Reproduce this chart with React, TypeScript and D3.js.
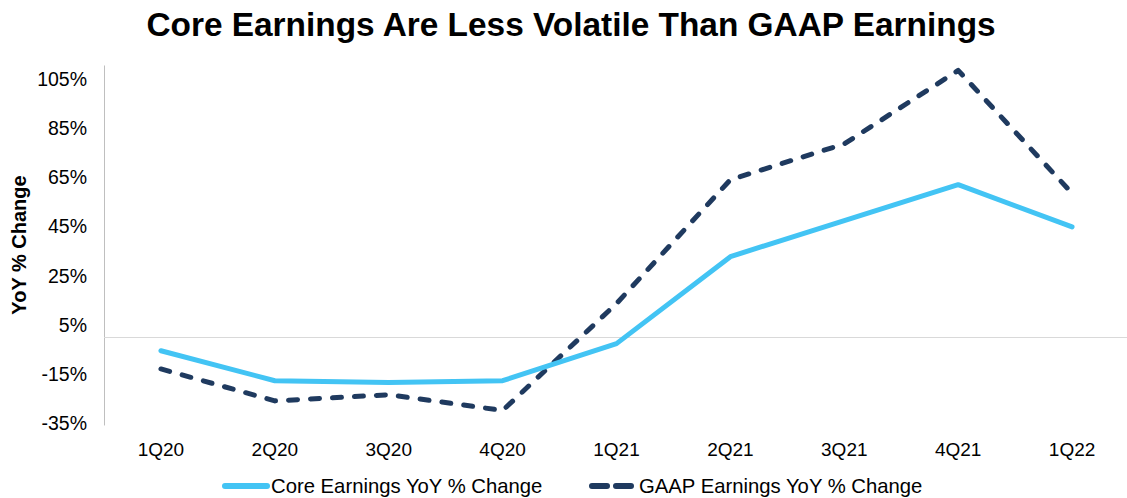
import React, { useEffect, useRef } from 'react';
import * as d3 from 'd3';

const quarters = ['1Q20', '2Q20', '3Q20', '4Q20', '1Q21', '2Q21', '3Q21', '4Q21', '1Q22'];
const coreEarnings = [-5.6, -17.8, -18.5, -17.8, -2.7, 32.7, 47.4, 62.0, 44.8];
const gaapEarnings = [-13.0, -26.0, -23.5, -29.9, 13.6, 64.0, 78.6, 108.5, 58.5];
const yTicks = [-35, -15, 5, 25, 45, 65, 85, 105];

const WIDTH = 1127;
const HEIGHT = 498;
const CORE_COLOUR = '#43c4f4';
const GAAP_COLOUR = '#1f3a5f';
const FONT = '"Liberation Sans", Arial, sans-serif';

export default function App() {
    const canvas = useRef<SVGSVGElement>(null);

    useEffect(() => {
        const svg = d3.select(canvas.current);
        svg.selectAll('*').remove();

        const margin = { left: 104, right: 1129 };
        const xScale = d3.scalePoint<string>()
            .domain(quarters)
            .range([margin.left, margin.right])
            .padding(0.5);

        const yScale = d3.scaleLinear()
            .domain([-35, 105])
            .range([423, 79]);

        // title
        svg.append('text')
            .attr('x', 571)
            .attr('y', 36)
            .attr('text-anchor', 'middle')
            .attr('font-family', FONT)
            .attr('font-weight', 'bold')
            .attr('font-size', 33.4)
            .attr('fill', '#000')
            .text('Core Earnings Are Less Volatile Than GAAP Earnings');

        // y label
        svg.append('text')
            .attr('transform', 'translate(26,245) rotate(-90)')
            .attr('text-anchor', 'middle')
            .attr('font-family', FONT)
            .attr('font-weight', 'bold')
            .attr('font-size', 20)
            .text('YoY % Change');

        // left axis line
        svg.append('line')
            .attr('x1', margin.left + 0.5)
            .attr('x2', margin.left + 0.5)
            .attr('y1', yScale(110.5))
            .attr('y2', yScale(-36))
            .attr('stroke', '#bfbfbf')
            .attr('stroke-width', 1);

        // zero line
        svg.append('line')
            .attr('x1', margin.left)
            .attr('x2', margin.right)
            .attr('y1', Math.round(yScale(0)) + 0.5)
            .attr('y2', Math.round(yScale(0)) + 0.5)
            .attr('stroke', '#d9d9d9')
            .attr('stroke-width', 1);

        // y tick labels
        svg.selectAll('.yTick')
            .data(yTicks)
            .enter().append('text')
            .attr('class', 'yTick')
            .attr('x', 87)
            .attr('y', (d: number) => yScale(d) + 7)
            .attr('text-anchor', 'end')
            .attr('font-family', FONT)
            .attr('font-size', 19.5)
            .attr('fill', '#000')
            .text((d: number) => d + '%');

        // x tick labels
        svg.selectAll('.xTick')
            .data(quarters)
            .enter().append('text')
            .attr('class', 'xTick')
            .attr('x', (d: string) => xScale(d) as number)
            .attr('y', 456)
            .attr('text-anchor', 'middle')
            .attr('font-family', FONT)
            .attr('font-size', 19)
            .attr('fill', '#000')
            .text((d: string) => d);

        const line = d3.line<number>()
            .x((d: number, i: number) => xScale(quarters[i]) as number)
            .y((d: number) => yScale(d));

        svg.append('path')
            .datum(gaapEarnings)
            .attr('d', line)
            .attr('fill', 'none')
            .attr('stroke', GAAP_COLOUR)
            .attr('stroke-width', 5)
            .attr('stroke-linecap', 'round')
            .attr('stroke-linejoin', 'round')
            .attr('stroke-dasharray', '9,13');

        svg.append('path')
            .datum(coreEarnings)
            .attr('d', line)
            .attr('fill', 'none')
            .attr('stroke', CORE_COLOUR)
            .attr('stroke-width', 5)
            .attr('stroke-linecap', 'round')
            .attr('stroke-linejoin', 'round');

        // legend
        const legend = svg.append('g').attr('transform', 'translate(0,486)');
        legend.append('line')
            .attr('x1', 225).attr('x2', 267)
            .attr('y1', 0).attr('y2', 0)
            .attr('stroke', CORE_COLOUR)
            .attr('stroke-width', 6)
            .attr('stroke-linecap', 'round');
        legend.append('text')
            .attr('x', 271).attr('y', 7)
            .attr('font-family', FONT)
            .attr('font-size', 20.3)
            .text('Core Earnings YoY % Change');
        legend.append('line')
            .attr('x1', 592).attr('x2', 632)
            .attr('y1', 0).attr('y2', 0)
            .attr('stroke', GAAP_COLOUR)
            .attr('stroke-width', 6)
            .attr('stroke-linecap', 'round')
            .attr('stroke-dasharray', '15,9');
        legend.append('text')
            .attr('x', 639).attr('y', 7)
            .attr('font-family', FONT)
            .attr('font-size', 20.3)
            .text('GAAP Earnings YoY % Change');
    }, []);

    return (
        <svg
            ref={canvas}
            width={WIDTH}
            height={HEIGHT}
            style={{ position: 'absolute', left: 0, top: 0, background: '#fff' }}
        />
    );
}
